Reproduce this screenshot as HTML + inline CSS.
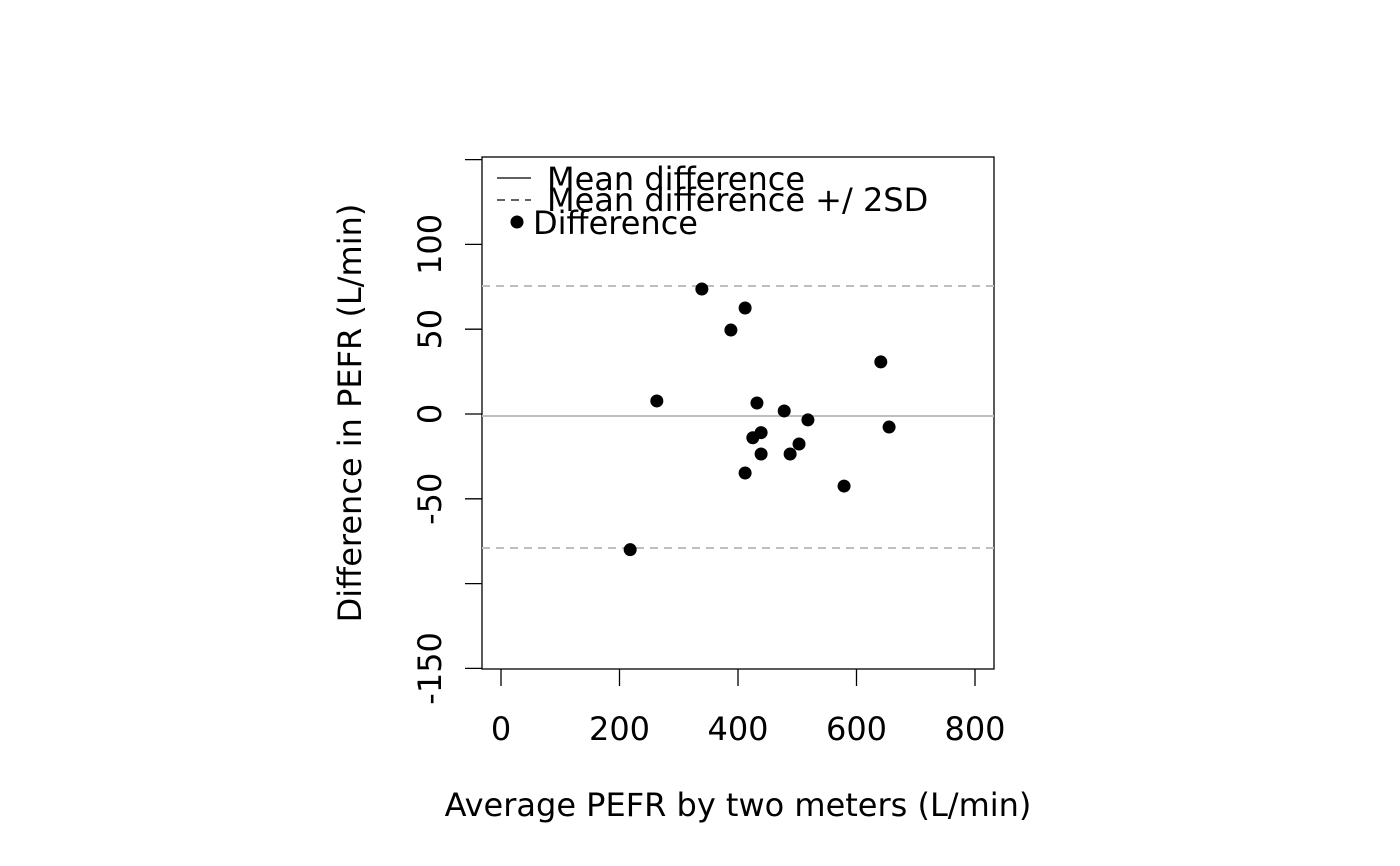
<!DOCTYPE html>
<html><head><meta charset="utf-8"><style>
html,body{margin:0;padding:0;background:#fff;}
svg{display:block;font-family:"DejaVu Sans","Liberation Sans",sans-serif;}
</style></head><body>
<svg id="chart" width="1400" height="866">
<rect x="482" y="157" width="512" height="512" fill="none" stroke="#000" stroke-width="1.3"/>
<g id="xaxis"></g>
<g id="yaxis"></g>
<g id="lines"></g>
<g id="pts"></g>
<text x="738" y="816" text-anchor="middle" font-size="32">Average PEFR by two meters (L/min)</text>
<text transform="translate(361,413) rotate(-90)" text-anchor="middle" font-size="32">Difference in PEFR (L/min)</text>
<g>
<line x1="497" y1="178" x2="531" y2="178" stroke="#000" stroke-width="1.3"/>
<text x="547" y="190" font-size="32">Mean difference</text>
<line x1="497" y1="200" x2="531" y2="200" stroke="#000" stroke-width="1.3" stroke-dasharray="8,6"/>
<text x="547" y="211" font-size="32">Mean difference +/ 2SD</text>
<circle cx="517" cy="222" r="6.5" fill="#000"/>
<text x="533" y="234" font-size="32">Difference</text>
</g>
</svg>
<script>
const averages = [218, 263, 339, 412, 388, 432, 478, 518, 641, 655, 425, 439, 503, 439, 488, 412, 579];
const differences = [-80, 7.7, 73.7, 62.5, 49.5, 6.5, 1.8, -3.5, 30.7, -7.7, -14, -11, -17.7, -23.6, -23.6, -34.8, -42.5];
const xTicks = [0, 200, 400, 600, 800];
const yTicks = [150, 100, 50, 0, -50, -100, -150];
const yTickLabels = ["", "100", "50", "0", "-50", "", "-150"];
const meanDiff = -1.2;
const upperLimit = 75.5;
const lowerLimit = -79;

const NS = "http://www.w3.org/2000/svg";
const sx = v => 501 + v * 0.5925;
const sy = v => 414 - v * 1.696;
function mk(tag, attrs, parent){const e=document.createElementNS(NS,tag);for(const k in attrs)e.setAttribute(k,attrs[k]);parent.appendChild(e);return e;}

const xg = document.getElementById('xaxis');
xTicks.forEach(t=>{
  const l=mk('line',{x1:sx(t),x2:sx(t),y1:669,y2:686,stroke:'#000','stroke-width':1.3},xg);
  
  
  const tx=mk('text',{x:sx(t),y:740,'text-anchor':'middle','font-size':32},xg);
  tx.textContent=t;
  
  
});
const yg = document.getElementById('yaxis');
yTicks.forEach((t,i)=>{
  const l=mk('line',{x1:465,x2:482,y1:sy(t),y2:sy(t),stroke:'#000','stroke-width':1.3},yg);
  
  
  if(yTickLabels[i]){
    const tx=mk('text',{transform:`translate(441,${sy(t)}) rotate(-90)`,'text-anchor':'middle','font-size':32},yg);
    tx.textContent=yTickLabels[i];
    
    
  }
});
const lg=document.getElementById('lines');
const ml=mk('line',{x1:482,x2:994,y1:sy(meanDiff),y2:sy(meanDiff),stroke:'#bebebe','stroke-width':2},lg);


[upperLimit,lowerLimit].forEach(v=>{
  const d=mk('line',{x1:482,x2:994,y1:sy(v),y2:sy(v),stroke:'#bebebe','stroke-width':2,'stroke-dasharray':'8,6'},lg);
  
  
});
const pg=document.getElementById('pts');
averages.forEach((a,i)=>{
  const c=mk('circle',{cx:sx(a),cy:sy(differences[i]),r:6.5,fill:'#000'},pg);
  
  
});
</script>
</body></html>
